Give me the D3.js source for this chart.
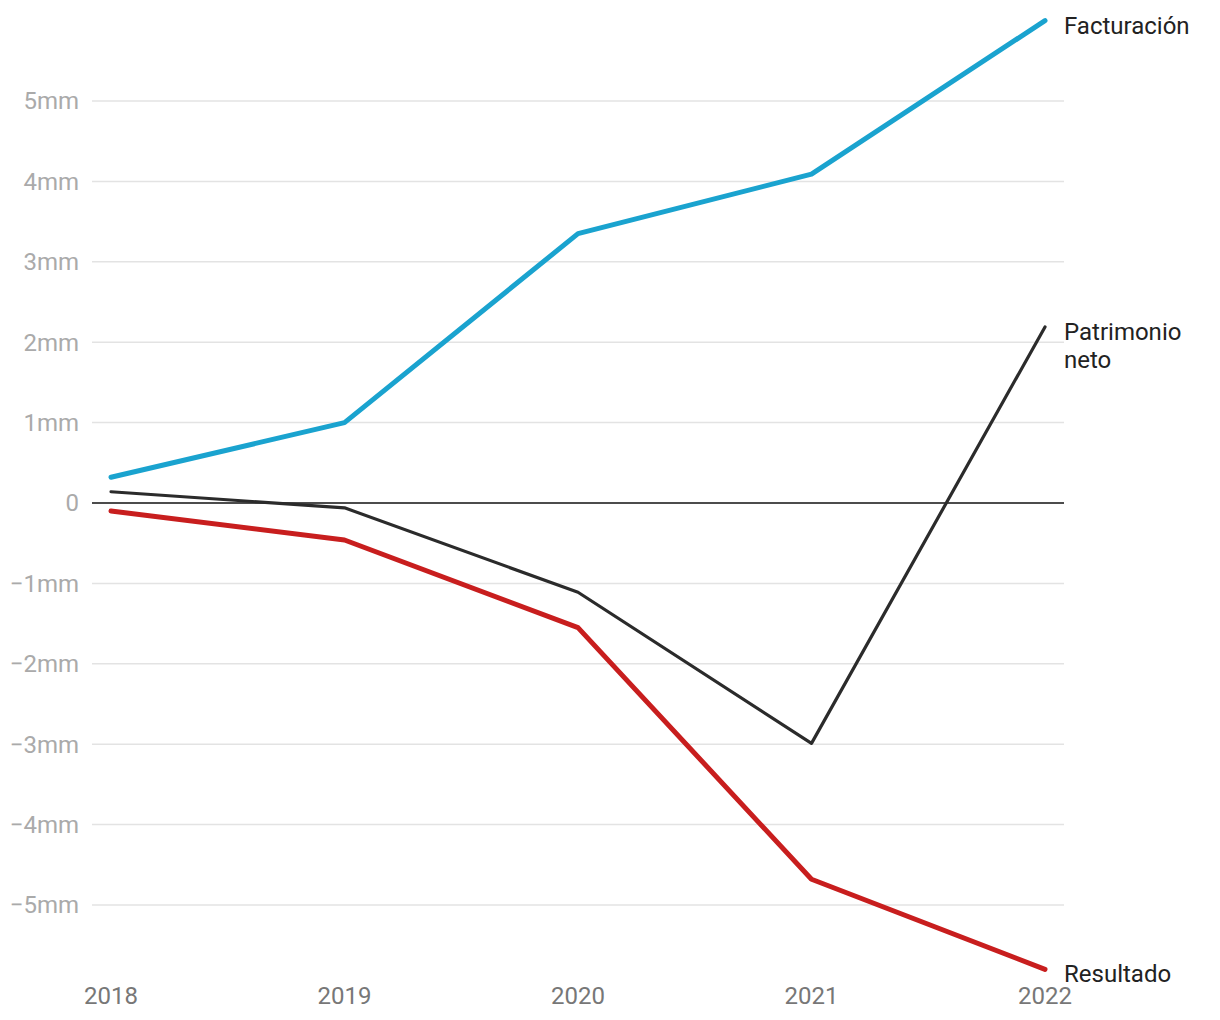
<!DOCTYPE html>
<html lang="es">
<head>
  <meta charset="UTF-8">
  <title>Facturación, resultado y patrimonio neto</title>
  <style>
    body { margin: 0; background: #fff; font-family: Roboto, "Noto Sans", sans-serif; }
    .grid line { stroke: #e3e3e3; stroke-width: 1.5; }
    .ytick { fill: #aaa; font-size: 24px; }
    .xtick { fill: #777; font-size: 24px; }
    .serie-label { fill: #222; font-size: 24px; }
  </style>
</head>
<body>
  <svg id="chart" width="1220" height="1020"></svg>

  <script src="https://cdnjs.cloudflare.com/ajax/libs/d3/7.8.5/d3.min.js"></script>
  <script>
    'use strict';

    const years = [2018, 2019, 2020, 2021, 2022];
    const facturacion = [0.32, 1.0, 3.35, 4.09, 6.0];
    const patrimonio = [0.14, -0.06, -1.11, -2.99, 2.19];
    const resultado = [-0.1, -0.46, -1.55, -4.68, -5.8];
    const yTicks = [-5, -4, -3, -2, -1, 0, 1, 2, 3, 4, 5];

    const series = [
      { name: ['Facturación'], values: facturacion, color: '#1aa3cf', width: 5 },
      { name: ['Patrimonio', 'neto'], values: patrimonio, color: '#2b2b2b', width: 3.2 },
      { name: ['Resultado'], values: resultado, color: '#c81e1e', width: 5 }
    ];

    const svg = d3.select('#chart');

    const x = d3.scalePoint()
      .domain(years)
      .range([111, 1045]);

    const y = d3.scaleLinear()
      .domain([0, 5])
      .range([503, 101]);

    const gridLeft = 92, gridRight = 1064;

    // horizontal grid
    svg.append('g')
      .attr('class', 'grid')
      .selectAll('line')
      .data(yTicks.filter(d => d !== 0))
      .join('line')
      .attr('x1', gridLeft)
      .attr('x2', gridRight)
      .attr('y1', d => y(d))
      .attr('y2', d => y(d));

    // zero line
    svg.append('line')
      .attr('x1', gridLeft)
      .attr('x2', gridRight)
      .attr('y1', y(0))
      .attr('y2', y(0))
      .attr('stroke', '#111')
      .attr('stroke-width', 1.5);

    svg.append('g')
      .selectAll('text')
      .data(yTicks)
      .join('text')
      .attr('class', 'ytick')
      .attr('x', 79)
      .attr('y', d => y(d))
      .attr('dy', '0.35em')
      .attr('text-anchor', 'end')
      .text(d => d === 0 ? '0' : (d < 0 ? '\u2212' + Math.abs(d) : d) + 'mm');

    svg.append('g')
      .selectAll('text')
      .data(years)
      .join('text')
      .attr('class', 'xtick')
      .attr('x', d => x(d))
      .attr('y', 1004)
      .attr('text-anchor', 'middle')
      .text(d => d);

    const line = d3.line()
      .x((d, i) => x(years[i]))
      .y(d => y(d));

    series.forEach(s => {
      svg.append('path')
        .datum(s.values)
        .attr('fill', 'none')
        .attr('stroke', s.color)
        .attr('stroke-width', s.width)
        .attr('stroke-linecap', 'round')
        .attr('stroke-linejoin', 'round')
        .attr('d', line);

      const last = s.values[s.values.length - 1];
      const label = svg.append('text')
        .attr('class', 'serie-label')
        .attr('x', 1064)
        .attr('y', y(last) + 13);
      s.name.forEach((t, i) => {
        label.append('tspan')
          .attr('x', 1064)
          .attr('dy', i === 0 ? 0 : 28)
          .text(t);
      });
    });
  </script>
</body>
</html>
